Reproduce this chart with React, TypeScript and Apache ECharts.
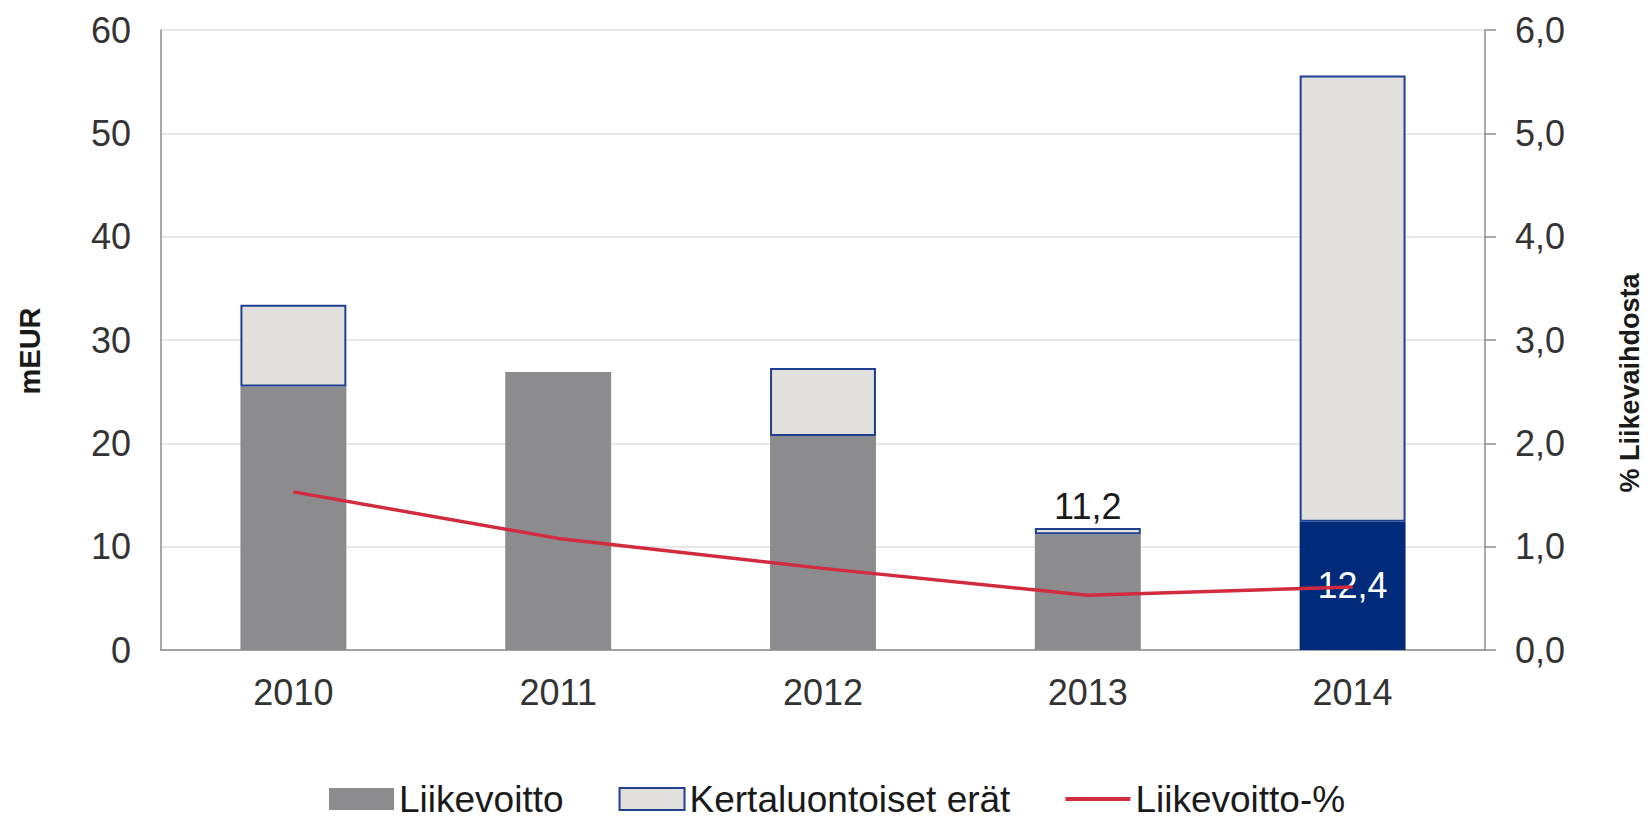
import React, { useEffect, useRef } from "react";
import * as echarts from "echarts";

const years = ["2010", "2011", "2012", "2013", "2014"];
const liikevoitto = [25.5, 26.9, 20.7, 11.2, 12.4];
const kertaluontoiset: (number | null)[] = [7.9, null, 6.6, 0.6, 43.2];
const liikevoittoPct = [1.53, 1.08, 0.79, 0.53, 0.61];
const highlightYear = "2014"; // Liikevoitto bar drawn in navy, value shown inside
const topLabelYear = "2013"; // Liikevoitto value shown above the stack

const seriesNames = ["Liikevoitto", "Kertaluontoiset erät", "Liikevoitto-%"];
const leftAxisName = "mEUR";
const rightAxisName = "% Liikevaihdosta";

const FONT = "'Liberation Sans', Arial, sans-serif";
const fmt = (v: number) => v.toFixed(1).replace(".", ",");
const LINE_ICON = "path://M0,0L0,0M0,9L65,9L65,13L0,13ZM65,22L65,22";

export default function App() {
  const ref = useRef<HTMLDivElement>(null);
  useEffect(() => {
    if (!ref.current) return;
    const chart = echarts.init(ref.current, undefined, { renderer: "svg" });
    const lvData = liikevoitto.map((v, i) =>
      years[i] === highlightYear
        ? {
            value: v,
            itemStyle: { color: "#002A7A" },
            label: {
              show: true,
              position: "inside",
              color: "#ffffff",
              fontSize: 36,
              fontFamily: FONT,
              formatter: () => fmt(v),
            },
          }
        : { value: v }
    );
    const kData = kertaluontoiset.map((v, i) =>
      years[i] === topLabelYear
        ? {
            value: v,
            label: {
              show: true,
              position: "top",
              distance: 4,
              color: "#1a1a1a",
              fontSize: 36,
              fontFamily: FONT,
              formatter: () => fmt(liikevoitto[i]),
            },
          }
        : { value: v }
    );
    chart.setOption({
      animation: false,
      backgroundColor: "#ffffff",
      textStyle: { fontFamily: FONT },
      grid: { left: 161, right: 166, top: 30, bottom: 168, containLabel: false },
      graphic: [
        {
          type: "text",
          x: 30,
          y: 351,
          rotation: Math.PI / 2,
          style: {
            text: leftAxisName,
            align: "center",
            verticalAlign: "middle",
            fontSize: 29,
            fontWeight: "bold",
            fontFamily: FONT,
            fill: "#1a1a1a",
          },
        },
        {
          type: "text",
          x: 1630,
          y: 383,
          rotation: Math.PI / 2,
          style: {
            text: rightAxisName,
            align: "center",
            verticalAlign: "middle",
            fontSize: 27,
            fontWeight: "bold",
            fontFamily: FONT,
            fill: "#1a1a1a",
          },
        },
      ],
      legend: {
        left: 329,
        top: 779,
        padding: 0,
        itemWidth: 65,
        itemHeight: 22,
        itemGap: 55,
        textStyle: { fontSize: 37, lineHeight: 40, color: "#1a1a1a", fontFamily: FONT },
        data: [
          { name: seriesNames[0], icon: "rect" },
          { name: seriesNames[1], icon: "rect" },
          { name: seriesNames[2], icon: LINE_ICON },
        ],
      },
      xAxis: {
        type: "category",
        data: years,
        axisLine: { lineStyle: { color: "#8c8c8c", width: 1.5 } },
        axisTick: { show: false },
        axisLabel: { fontSize: 36, color: "#333", margin: 24, fontFamily: FONT },
      },
      yAxis: [
        {
          type: "value",
          min: 0,
          max: 60,
          interval: 10,
          axisLine: { show: true, lineStyle: { color: "#8c8c8c", width: 1.5 } },
          axisTick: { show: false },
          axisLabel: { fontSize: 36, color: "#333", margin: 30, fontFamily: FONT },
          splitLine: { lineStyle: { color: "#E0E0DC", width: 1.5 } },
        },
        {
          type: "value",
          min: 0,
          max: 6,
          interval: 1,
          position: "right",
          axisLine: { show: true, lineStyle: { color: "#8c8c8c", width: 1.5 } },
          axisTick: { show: true, length: 11, inside: false, lineStyle: { color: "#8c8c8c", width: 1.5 } },
          axisLabel: { fontSize: 36, color: "#333", margin: 30, fontFamily: FONT, formatter: (v: number) => fmt(v) },
          splitLine: { show: false },
        },
      ],
      series: [
        {
          name: seriesNames[0],
          type: "bar",
          stack: "total",
          barWidth: "40%",
          itemStyle: { color: "#8C8C8E" },
          data: lvData,
        },
        {
          name: seriesNames[1],
          type: "bar",
          stack: "total",
          barWidth: "40%",
          itemStyle: { color: "#E1E0DD", borderColor: "#1F3F8F", borderWidth: 2 },
          data: kData,
        },
        {
          name: seriesNames[2],
          type: "line",
          yAxisIndex: 1,
          symbol: "none",
          lineStyle: { color: "#D22B3F", width: 3.5 },
          itemStyle: { color: "#D22B3F" },
          data: liikevoittoPct,
          z: 5,
        },
      ],
    });
    return () => chart.dispose();
  }, []);
  return (
    <div
      ref={ref}
      style={{ position: "fixed", left: 0, top: 0, width: 1651, height: 818 }}
    />
  );
}
